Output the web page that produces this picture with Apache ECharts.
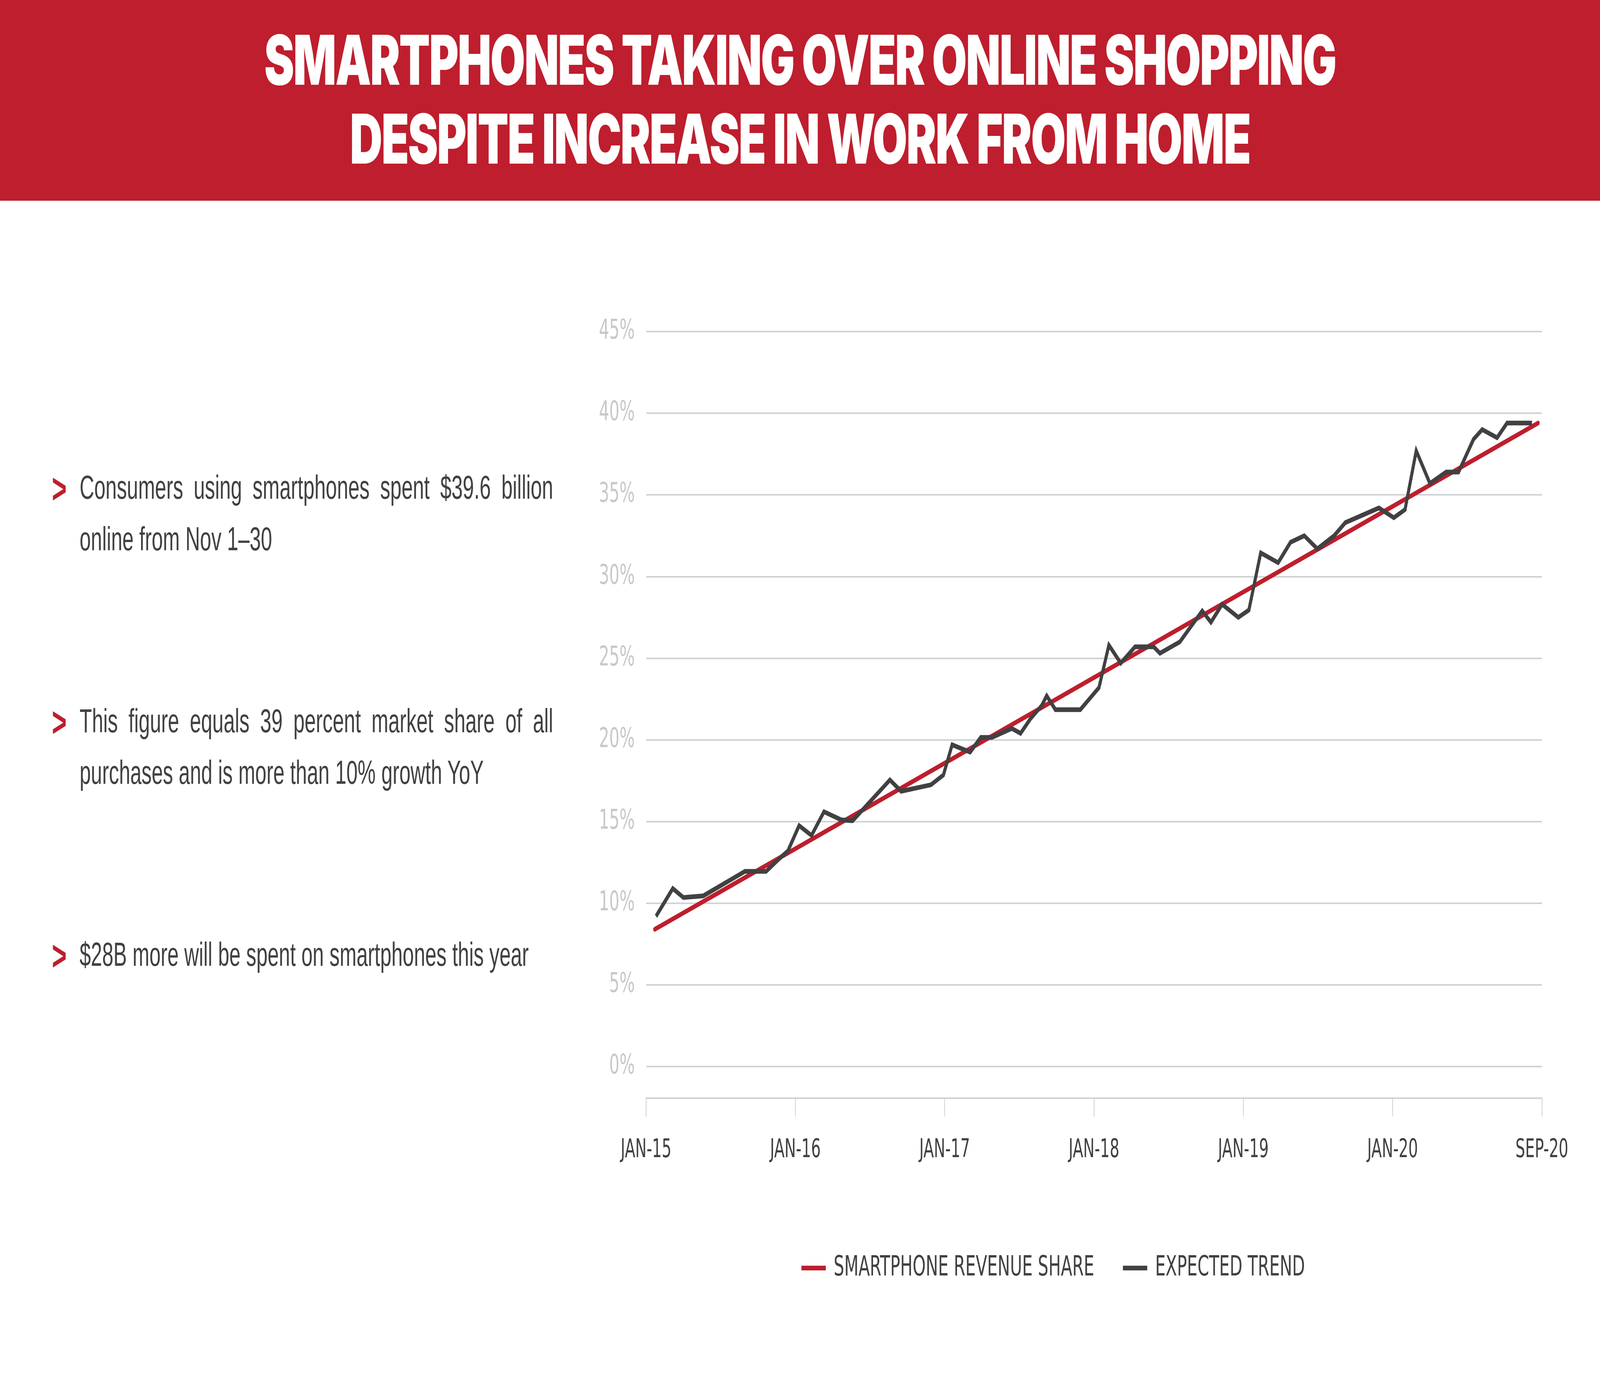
<!DOCTYPE html>
<html>
<head>
<meta charset="utf-8">
<title>Smartphones taking over online shopping</title>
<script src="https://cdn.jsdelivr.net/npm/echarts@6/dist/echarts.min.js"></script>
<style>
    html, body { margin: 0; padding: 0; width: 100%; height: 100%; background: #fff; overflow: hidden; }
    #frame { position: absolute; left: 0; top: 0; width: 100vw; height: 100vh; overflow: hidden; }
    /* 页面按 6251x3526 设计，再缩放到窗口大小 */
    #page {
        position: absolute; left: 0; top: 0; width: 6251px; height: 3526px;
        transform-origin: 0 0; background: #fff;
    }
    #chart { position: absolute; left: 0; top: 0; width: 6251px; height: 3526px; }
    .header {
        position: absolute; left: 0; top: 0; width: 6251px; height: 514px;
        background: #be1e2d; color: #fff; text-align: center;
        font-family: Inter, Roboto, 'DejaVu Sans', sans-serif; font-weight: 900;
        font-size: 176px; letter-spacing: -4px; line-height: 202px;
        padding-top: 52px; box-sizing: border-box;
    }
    .bullet {
        position: absolute; left: 311px; width: 2011px;
        transform: scaleX(0.92); transform-origin: 0 0;
        font-family: 'Liberation Sans', Arial, sans-serif; font-weight: normal;
        font-size: 86px; line-height: 132px; color: #414042;
    }
    .bullet .just { text-align: justify; text-align-last: justify; }
    .bullet .mark {
        position: absolute; left: -118px; top: 4px; color: #be1e2d;
        font-family: 'Liberation Sans', Arial, sans-serif; font-weight: bold; font-size: 108px;
        line-height: 132px;
    }
</style>
</head>
<body>
<div id="frame">
    <div id="page">
        <div id="chart"></div>
        <div class="header">SMARTPHONES TAKING OVER ONLINE SHOPPING<br>DESPITE INCREASE IN WORK FROM HOME</div>
        <div class="bullet" style="top:1181px;">
            <span class="mark">&gt;</span>
            <div class="just">Consumers using smartphones spent $39.6 billion</div>
            <div>online from Nov 1–30</div>
        </div>
        <div class="bullet" style="top:1779px;">
            <span class="mark">&gt;</span>
            <div class="just">This figure equals 39 percent market share of all</div>
            <div>purchases and is more than 10% growth YoY</div>
        </div>
        <div class="bullet" style="top:2377px;">
            <span class="mark">&gt;</span>
            <div>$28B more will be spent on smartphones this year</div>
        </div>
    </div>
</div>
<script>
// 横轴标签（每 12 个月一个刻度）
const xLabels = ['JAN-15', 'JAN-16', 'JAN-17', 'JAN-18', 'JAN-19', 'JAN-20', 'SEP-20'];

// 红线：SMARTPHONE REVENUE SHARE（直线）
const revenueShareMonths = [0.7, 71.7];
const revenueShareValues = [8.4, 39.4];

// 深灰线：EXPECTED TREND（月份位置 / 百分比）
const expectedTrendMonths = [
    0.8, 2.15, 3.0, 4.6, 7.95, 9.65, 10.6, 11.4, 12.3, 13.3,
    14.3, 15.7, 16.6, 19.6, 20.5, 22.9, 23.9, 24.6, 26.05, 26.9,
    27.8, 29.4, 30.1, 30.9, 31.8, 32.2, 32.9, 34.9, 36.4, 37.2,
    38.15, 39.3, 40.8, 41.3, 42.9, 44.7, 45.4, 46.3, 47.6, 48.45,
    49.4, 50.8, 51.8, 52.9, 53.95, 55.3, 56.2, 58.9, 60.1, 61.0,
    61.9, 63.0, 64.3, 65.3, 66.5, 67.2, 68.4, 69.2, 71.2
];
const expectedTrendValues = [
    9.2, 10.9, 10.35, 10.45, 11.95, 11.95, 12.65, 13.2, 14.75, 14.15,
    15.6, 15.1, 15.05, 17.55, 16.85, 17.25, 17.85, 19.7, 19.25, 20.15,
    20.15, 20.7, 20.4, 21.3, 22.1, 22.7, 21.85, 21.85, 23.2, 25.8,
    24.7, 25.7, 25.7, 25.3, 26.0, 27.9, 27.2, 28.3, 27.5, 27.95,
    31.45, 30.85, 32.1, 32.5, 31.7, 32.5, 33.3, 34.2, 33.6, 34.1,
    37.7, 35.7, 36.4, 36.4, 38.4, 39.0, 38.5, 39.4, 39.4
];

const RED = '#be1e2d';
const DARK = '#414042';
const GRID_GRAY = '#d1d2d4';
const NARROW = "'DejaVu Sans Condensed', 'DejaVu Sans', sans-serif";

const DESIGN_W = 6251;
const DESIGN_H = 3526;

function zip(xs, ys) {
    return xs.map((x, i) => [x, ys[i]]);
}

document.addEventListener('DOMContentLoaded', function () {
    // 窗口不足 6251x3526 时，把整页缩放到窗口大小
    const sx = window.innerWidth / DESIGN_W;
    const sy = window.innerHeight / DESIGN_H;
    document.getElementById('page').style.transform = 'scale(' + sx + ',' + sy + ')';

    const chart = echarts.init(document.getElementById('chart'));
    const option = {
        animation: false,
        backgroundColor: '#fff',
        grid: [
            // 绘图区
            { left: 2524, right: 227, top: 849, bottom: 795 },
            // 横轴（位于 0% 网格线下方）
            { left: 2524, right: 227, top: 2811, height: 1 }
        ],
        legend: {
            left: 3126,
            top: 3206,
            itemWidth: 95,
            itemHeight: 12,
            itemGap: 112,
            icon: 'rect',
            textStyle: {
                fontFamily: NARROW,
                fontSize: 72,
                color: DARK,
                padding: [0, 0, 0, 26]
            },
            data: ['SMARTPHONE REVENUE SHARE', 'EXPECTED TREND']
        },
        xAxis: [
            {
                gridIndex: 0,
                type: 'value',
                min: 0,
                max: 72,
                interval: 12,
                show: false
            },
            {
                gridIndex: 1,
                type: 'value',
                min: 0,
                max: 72,
                interval: 12,
                position: 'top',
                axisLine: { show: true, lineStyle: { color: GRID_GRAY, width: 4 } },
                axisTick: { show: true, inside: true, length: 47, lineStyle: { color: GRID_GRAY, width: 3 } },
                splitLine: { show: false },
                axisLabel: {
                    inside: true,
                    margin: 102,
                    fontFamily: NARROW,
                    fontSize: 66,
                    color: DARK,
                    formatter: v => xLabels[Math.round(v / 12)]
                }
            }
        ],
        yAxis: [
            {
                gridIndex: 0,
                type: 'value',
                min: 0,
                max: 45,
                interval: 5,
                axisLine: { show: false },
                axisTick: { show: false },
                splitLine: { lineStyle: { color: GRID_GRAY, width: 4 } },
                axisLabel: {
                    margin: 44,
                    fontFamily: NARROW,
                    fontSize: 70,
                    color: '#c7c8ca',
                    formatter: '{value}%'
                }
            },
            {
                gridIndex: 1,
                type: 'value',
                show: false
            }
        ],
        series: [
            {
                name: 'SMARTPHONE REVENUE SHARE',
                type: 'line',
                xAxisIndex: 0,
                yAxisIndex: 0,
                symbol: 'none',
                itemStyle: { color: RED },
                lineStyle: { color: RED, width: 12, cap: 'round' },
                data: zip(revenueShareMonths, revenueShareValues)
            },
            {
                name: 'EXPECTED TREND',
                type: 'line',
                xAxisIndex: 0,
                yAxisIndex: 0,
                symbol: 'none',
                itemStyle: { color: DARK },
                lineStyle: { color: DARK, width: 12, join: 'miter' },
                data: zip(expectedTrendMonths, expectedTrendValues)
            }
        ]
    };
    chart.setOption(option);
});
</script>
</body>
</html>
